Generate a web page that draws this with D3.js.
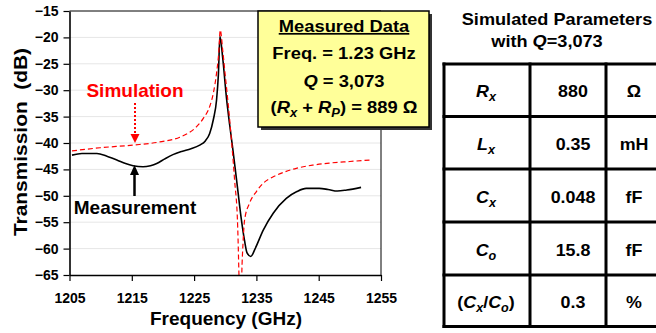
<!DOCTYPE html>
<html><head><meta charset="utf-8">
<script src="https://cdn.jsdelivr.net/npm/d3@7"></script>
<style>
html,body{margin:0;padding:0;background:#fff;}
svg text{font-family:Arial,"Liberation Sans",sans-serif;font-weight:bold;}
</style></head>
<body><svg id="c" width="656" height="333"></svg>
<script>
// ---- data ----
const measFreq = [1205.4,1207,1209.4,1211,1212.6,1214,1215.2,1216.8,1218,1219,1220.3,1221.6,1223,1224.5,1225.9,1226.8,1227.5,1228.1,1228.6,1228.9,1229.15,1229.6,1230.2,1230.7,1231.2,1232,1232.6,1233.1,1233.5,1234.1,1234.8,1236.1,1237.7,1239.8,1241.5,1243,1245.1,1246.5,1248,1249.5,1251.8];
const measDb = [-42.3,-42.0,-42.0,-42.5,-43.2,-43.9,-44.3,-44.5,-44.3,-43.9,-43.0,-42.2,-41.6,-41.1,-40.4,-39.6,-38.2,-35.5,-31.9,-27,-19.8,-24,-31.5,-36.5,-41,-48.8,-54.6,-58.5,-60.8,-61.5,-60.0,-56.5,-53.3,-50.5,-49.2,-48.6,-48.6,-48.8,-49.1,-48.9,-48.4];
const simFreq = [1205.4,1209.9,1215.2,1219.5,1222.7,1225.4,1226.5,1227.5,1228.1,1228.6,1228.95,1229.2,1229.6,1229.9,1230.7,1231.5,1232.0,1232.2,1232.45,1232.65,1232.85,1233.1,1233.9,1235,1236.2,1237.7,1239.5,1241.4,1244,1246.7,1250,1253.6];
const simDb = [-41.5,-40.9,-40.4,-39.8,-38.9,-36.9,-35.3,-33.1,-30.5,-26.8,-23,-18.6,-22.5,-26,-35.5,-47,-56,-65,-78,-65,-59,-54.6,-51.4,-49.2,-47.5,-46.4,-45.5,-44.8,-44.2,-43.8,-43.5,-43.2];
const xTicks = [1205,1215,1225,1235,1245,1255];
const yTicks = [-65,-60,-55,-50,-45,-40,-35,-30,-25,-20,-15];
const tableSymbols = ["Rx","Lx","Cx","Co","CxCo"];
const tableValues = ["880","0.35","0.048","15.8","0.3"];
const tableUnits = ["Ω","mH","fF","fF","%"];

const svg = d3.select("#c");
const L=69.5, R=381, T=11, B=275;
const x = d3.scaleLinear().domain([1205,1255]).range([L,R]);
const y = d3.scaleLinear().domain([-65,-15]).range([B,T]);

// grid
svg.append("g").selectAll("line").data(yTicks.filter(d=>d>-65&&d<-15)).join("line")
  .attr("x1",L).attr("x2",R).attr("y1",d=>y(d)).attr("y2",d=>y(d))
  .attr("stroke","#e6e6e6").attr("stroke-width",1);

// clip
svg.append("clipPath").attr("id","pc").append("rect").attr("x",L).attr("y",T).attr("width",R-L).attr("height",B-T);

const line = d3.line().x(d=>x(d[0])).y(d=>y(d[1])).curve(d3.curveMonotoneX);
const g = svg.append("g").attr("clip-path","url(#pc)");
g.append("path").datum(measFreq.map((f,i)=>[f,measDb[i]])).attr("d",line)
  .attr("fill","none").attr("stroke","#000").attr("stroke-width",1.6);
g.append("path").datum(simFreq.map((f,i)=>[f,simDb[i]])).attr("d",line)
  .attr("fill","none").attr("stroke","#ff0000").attr("stroke-width",1.2).attr("stroke-dasharray","5,3");

// frame
svg.append("line").attr("x1",L).attr("x2",R).attr("y1",T).attr("y2",T).attr("stroke","#000").attr("stroke-width",1);
svg.append("line").attr("x1",R).attr("x2",R).attr("y1",T).attr("y2",B).attr("stroke","#000").attr("stroke-width",1);

// axes
const xa = svg.append("g").attr("transform",`translate(0,${B})`)
  .call(d3.axisBottom(x).tickValues(xTicks).tickSize(6).tickSizeOuter(0).tickFormat(d3.format("d")).tickPadding(12));
const ya = svg.append("g").attr("transform",`translate(${L},0)`)
  .call(d3.axisLeft(y).tickValues(yTicks).tickSize(6).tickSizeOuter(0).tickPadding(5));
[xa,ya].forEach(a=>{
  a.select(".domain").attr("stroke","#000").attr("stroke-width",1.6);
  a.selectAll(".tick line").attr("stroke","#000").attr("stroke-width",1.2);
  a.selectAll(".tick text").attr("font-size",14).attr("fill","#000").attr("font-family","Arial, 'Liberation Sans', sans-serif").attr("font-weight","bold");
});

// axis titles
svg.append("text").attr("x",226).attr("y",325).attr("text-anchor","middle").attr("font-size",19).text("Frequency (GHz)");
svg.append("text").attr("transform","translate(27,142) rotate(-90) scale(1.1,1)").attr("text-anchor","middle").attr("font-size",19).attr("xml:space","preserve").text("Transmission  (dB)");

// annotations
svg.append("text").attr("x",135).attr("y",97).attr("text-anchor","middle").attr("font-size",19).attr("fill","#ff0000").text("Simulation");
svg.append("line").attr("x1",135).attr("x2",135).attr("y1",103).attr("y2",135).attr("stroke","#ff0000").attr("stroke-width",2).attr("stroke-dasharray","2,2");
svg.append("path").attr("d","M130.5,134 L139.5,134 L135,143 Z").attr("fill","#ff0000");
svg.append("text").attr("x",135).attr("y",214).attr("text-anchor","middle").attr("font-size",19).attr("fill","#000").text("Measurement");
svg.append("line").attr("x1",134.5).attr("x2",134.5).attr("y1",196).attr("y2",173).attr("stroke","#000").attr("stroke-width",2.5);
svg.append("path").attr("d","M130,175 L139,175 L134.5,165 Z").attr("fill","#000");

// measured data box
svg.append("rect").attr("x",261).attr("y",14).attr("width",171).attr("height",116).attr("fill","#333");
svg.append("rect").attr("x",258).attr("y",11).attr("width",171).attr("height",116).attr("fill","#ffff99").attr("stroke","#000").attr("stroke-width",1.5);
const bx = 344;
function stext(xx,yy,size,sx){
  return svg.append("text").attr("transform",`translate(${xx},${yy}) scale(${sx},1)`).attr("text-anchor","middle").attr("font-size",size);
}
stext(bx,32,17,1.08).attr("text-decoration","underline").text("Measured Data");
stext(bx,58.5,17,1.08).text("Freq. = 1.23 GHz");
const q = stext(bx,86.5,17,1.08);
q.append("tspan").attr("font-style","italic").text("Q");
q.append("tspan").text(" = 3,073");
const r = stext(bx,112.5,17,1.08).attr("xml:space","preserve");
r.append("tspan").text("(");
r.append("tspan").attr("font-style","italic").text("R");
r.append("tspan").attr("font-style","italic").attr("font-size",12).attr("dy",4).text("x");
r.append("tspan").attr("dy",-4).text(" + ");
r.append("tspan").attr("font-style","italic").text("R");
r.append("tspan").attr("font-style","italic").attr("font-size",12).attr("dy",4).text("P");
r.append("tspan").attr("dy",-4).text(") = 889 Ω");

// table
stext(557,25,16.5,1.1).text("Simulated Parameters");
const w = stext(547,47,16.5,1.1);
w.append("tspan").text("with ");
w.append("tspan").attr("font-style","italic").text("Q");
w.append("tspan").text("=3,073");

const colX = [444,530,606,662];
const rowY = [64,116.5,169,222,275,326.5];
const tg = svg.append("g");
rowY.forEach(yy=>tg.append("line").attr("x1",colX[0]-1.5).attr("x2",colX[3]+1.5).attr("y1",yy).attr("y2",yy).attr("stroke","#000").attr("stroke-width",3));
colX.forEach(xx=>tg.append("line").attr("x1",xx).attr("x2",xx).attr("y1",rowY[0]-1.5).attr("y2",rowY[5]+1.5).attr("stroke","#000").attr("stroke-width",3));

function sym(t,k){
  const s={Rx:["R","x"],Lx:["L","x"],Cx:["C","x"],Co:["C","o"]};
  if(s[k]){
    t.append("tspan").attr("font-style","italic").text(s[k][0]);
    t.append("tspan").attr("font-style","italic").attr("font-size",12).attr("dy",4).text(s[k][1]);
  } else {
    t.append("tspan").text("(");
    t.append("tspan").attr("font-style","italic").text("C");
    t.append("tspan").attr("font-style","italic").attr("font-size",12).attr("dy",4).text("x");
    t.append("tspan").attr("dy",-4).text("/");
    t.append("tspan").attr("font-style","italic").text("C");
    t.append("tspan").attr("font-style","italic").attr("font-size",12).attr("dy",4).text("o");
    t.append("tspan").attr("dy",-4).text(")");
  }
}
tableSymbols.forEach((k,i)=>{
  const cy = (rowY[i]+rowY[i+1])/2 + 7;
  const t = stext((colX[0]+colX[1])/2 - 1, cy, 17, 1.05);
  sym(t,k);
  stext((colX[1]+colX[2])/2 + 5, cy, 17, 1.05).text(tableValues[i]);
  stext((colX[2]+colX[3])/2, cy, 17, 1.05).text(tableUnits[i]);
});
</script></body></html>
